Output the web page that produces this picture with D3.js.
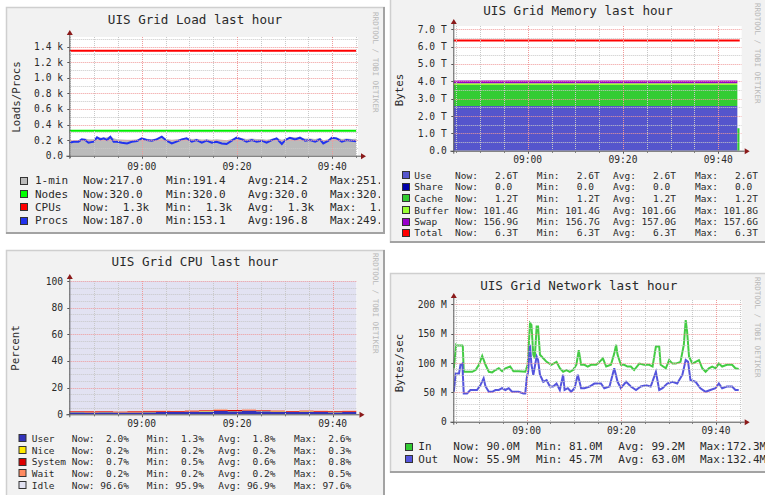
<!DOCTYPE html>
<html><head><meta charset="utf-8">
<script src="https://cdn.jsdelivr.net/npm/d3@7"></script>
<style>
body{margin:0;background:#fff;}
svg text{font-family:"DejaVu Sans Mono",monospace;white-space:pre;fill:#2a2a2a;}
</style></head><body>
<svg id="c" width="765" height="495"></svg>
<script>
// ---------------- DATA ----------------
// time axis: minutes relative to 09:00
const timeTicks = [0, 20, 40];
const timeTickLabels = ["09:00", "09:20", "09:40"];

// Load panel
const loadTime = [-15.2,-14.3,-13.3,-12.6,-11.9,-11.2,-10.1,-9.4,-8.7,-8.0,-7.3,-6.6,-5.9,-5.2,-4.2,-3.1,-2.1,-1.0,0,1.0,2.1,3.1,4.2,5.2,6.3,7.3,8.4,9.4,10.5,11.5,12.6,13.6,14.7,15.7,16.8,17.8,18.9,19.9,21.0,22.0,23.1,24.1,25.2,26.2,27.3,28.3,29.4,30.1,31.1,32.2,33.2,34.3,35.3,36.4,37.4,38.1,39.2,39.9,40.9,42.0,43.0,44.1,45.0];
const loadOneMin = [195,198,200,215,222,210,212,238,235,232,236,250,225,212,208,205,206,212,226,218,212,220,242,215,205,210,218,230,216,218,208,212,206,210,204,198,214,236,228,216,220,214,216,206,218,230,205,218,240,236,238,222,220,214,226,200,212,236,232,216,222,215,217];
const loadProcs = [167,180,180,210,201,167,180,235,210,223,201,244,180,180,167,158,180,188,223,201,193,210,244,193,158,180,210,223,180,201,167,193,167,180,158,150,193,231,210,180,201,180,193,167,201,223,150,201,231,210,231,193,201,180,210,158,193,231,223,180,201,193,187];
const loadFlatTime = [-15.2, 45.0];
const loadNodes = [320, 320];
const loadCPUs = [1348, 1348];
const loadYTicks = [0, 200, 400, 600, 800, 1000, 1200, 1400];
const loadYTickLabels = ["0.0", "0.2 k", "0.4 k", "0.6 k", "0.8 k", "1.0 k", "1.2 k", "1.4 k"];
const loadLegendNames = ["1-min", "Nodes", "CPUs", "Procs"];
const loadLegendStats = [
  ["Now:217.0", "Min:191.4", "Avg:214.2", "Max:251.8"],
  ["Now:320.0", "Min:320.0", "Avg:320.0", "Max:320.0"],
  ["Now:  1.3k", "Min:  1.3k", "Avg:  1.3k", "Max:  1.3k"],
  ["Now:187.0", "Min:153.1", "Avg:196.8", "Max:249.7"]
];

// Memory panel (values in TB)
const memTime   = [-15.6,-10,-5,0,5,10,15,20,25,30,35,40,44.0,44.45];
const memUse    = [2.58,2.58,2.58,2.58,2.58,2.58,2.58,2.58,2.58,2.58,2.58,2.58,0,0];
const memShare  = [0,0,0,0,0,0,0,0,0,0,0,0,0,0];
const memCache  = [1.21,1.21,1.21,1.21,1.21,1.21,1.21,1.21,1.21,1.21,1.21,1.21,1.30,1.30];
const memBuffer = [0.1018,0.1017,0.1016,0.1016,0.1016,0.1015,0.1015,0.1016,0.1016,0.1015,0.1014,0.1014,0,0];
const memSwap   = [0.1576,0.1574,0.1572,0.1571,0.1570,0.1570,0.1569,0.1569,0.1568,0.1568,0.1567,0.1569,0,0];
const memTotalTime = [-15.6, 44.5];
const memTotal  = [6.35, 6.35];
const memYTicks = [0, 1, 2, 3, 4, 5, 6, 7];
const memYTickLabels = ["0.0", "1.0 T", "2.0 T", "3.0 T", "4.0 T", "5.0 T", "6.0 T", "7.0 T"];
const memLegendNames = ["Use", "Share", "Cache", "Buffer", "Swap", "Total"];
const memLegendStats = [
  ["Now:   2.6T", "Min:   2.6T", "Avg:   2.6T", "Max:   2.6T"],
  ["Now:   0.0", "Min:   0.0", "Avg:   0.0", "Max:   0.0"],
  ["Now:   1.2T", "Min:   1.2T", "Avg:   1.2T", "Max:   1.2T"],
  ["Now: 101.4G", "Min: 101.4G", "Avg: 101.6G", "Max: 101.8G"],
  ["Now: 156.9G", "Min: 156.7G", "Avg: 157.0G", "Max: 157.6G"],
  ["Now:   6.3T", "Min:   6.3T", "Avg:   6.3T", "Max:   6.3T"]
];

// CPU panel (percent)
const cpuTime   = [-15.3,-12,-9,-6,-3,0,3,6,9,12,15,18,21,24,27,30,33,36,39,42,45];
const cpuUser   = [1.5,1.4,1.5,1.3,1.4,1.6,1.8,1.7,1.9,2.1,2.4,2.2,2.6,2.3,1.9,1.7,2.0,1.8,1.6,1.8,2.0];
const cpuNice   = [0.2,0.2,0.2,0.2,0.2,0.3,0.2,0.2,0.2,0.3,0.2,0.2,0.2,0.2,0.3,0.2,0.2,0.2,0.3,0.2,0.2];
const cpuSystem = [0.6,0.6,0.5,0.6,0.6,0.6,0.6,0.6,0.7,0.6,0.7,0.8,0.7,0.6,0.6,0.5,0.6,0.6,0.6,0.7,0.7];
const cpuWait   = [0.2,0.3,0.2,0.2,0.2,0.3,0.2,0.2,0.3,0.2,0.5,0.3,0.2,0.2,0.2,0.2,0.3,0.2,0.2,0.2,0.2];
const cpuIdle   = [97.5,97.5,97.6,97.7,97.6,97.2,97.2,97.3,96.9,96.8,96.2,96.5,96.3,96.7,97.0,97.4,96.9,97.2,97.3,97.1,96.9];
const cpuYTicks = [0, 20, 40, 60, 80, 100];
const cpuYTickLabels = ["0", "20", "40", "60", "80", "100"];
const cpuLegendNames = ["User", "Nice", "System", "Wait", "Idle"];
const cpuLegendStats = [
  ["Now:  2.0%", "Min:  1.3%", "Avg:  1.8%", "Max:  2.6%"],
  ["Now:  0.2%", "Min:  0.2%", "Avg:  0.2%", "Max:  0.3%"],
  ["Now:  0.7%", "Min:  0.5%", "Avg:  0.6%", "Max:  0.8%"],
  ["Now:  0.2%", "Min:  0.2%", "Avg:  0.2%", "Max:  0.5%"],
  ["Now: 96.6%", "Min: 95.9%", "Avg: 96.9%", "Max: 97.6%"]
];

// Network panel (MB/s)
const netInTime = [-15.4,-14.9,-14.7,-13.6,-13.5,-13.3,-12.9,-11.5,-10.8,-10.1,-9.4,-8.7,-8.0,-7.3,-6.6,-5.9,-5.2,-4.5,-3.5,-2.8,-1.7,-0.3,0.2,0.7,1.0,1.4,1.7,2.1,2.4,2.8,3.5,4.2,5.2,6.3,7.0,7.7,8.4,9.1,9.8,10.5,11.0,11.5,12.2,12.9,13.6,14.7,15.4,16.1,16.8,17.8,18.5,18.9,19.2,19.9,20.6,21.3,22.0,22.7,23.8,24.8,25.9,26.6,27.3,28.0,28.3,29.4,30.1,30.8,31.5,32.5,33.2,33.6,33.9,34.3,35.0,35.7,36.4,37.1,37.8,38.5,39.2,39.9,40.6,41.3,42.3,43.4,44.1,44.8];
const netIn = [91,131,130,130,128,85,85,85,88,97,112,97,85,84,88,91,86,91,94,86,86,85,97,168,165,114,108,162,162,114,108,102,97,102,91,85,88,85,88,97,122,97,97,94,97,97,102,108,94,97,116,131,114,97,97,94,94,88,99,97,97,94,128,128,97,91,105,99,99,102,131,173,153,111,99,102,105,91,85,91,94,91,99,94,97,97,91,90];
const netOutTime = [-15.4,-15.0,-14.3,-14.0,-13.6,-13.3,-12.6,-11.9,-10.5,-9.8,-9.1,-8.7,-8.0,-7.3,-6.6,-5.9,-5.2,-4.5,-3.8,-3.1,-1.7,-0.7,-0.3,0.0,0.3,0.7,1.0,1.4,2.1,2.4,2.8,3.5,4.2,4.9,5.6,6.3,7.0,7.7,8.0,8.7,9.4,10.1,10.8,11.5,12.2,13.3,14.3,15.7,16.4,17.5,18.5,19.2,19.9,21.0,22.0,23.1,24.1,25.2,26.2,27.3,28.0,28.7,29.7,30.8,31.8,32.9,33.6,34.1,34.6,35.7,36.7,37.8,38.8,39.9,40.6,41.3,42.3,43.4,44.1,44.8];
const netOut = [51,82,82,97,99,48,48,54,54,62,74,60,51,51,54,54,57,54,57,51,51,48,48,74,85,131,97,80,111,105,80,68,71,60,60,65,54,80,54,57,51,57,80,57,57,60,65,65,57,60,91,68,57,68,60,54,60,62,60,85,54,57,65,68,65,80,105,102,71,68,57,51,54,57,65,57,60,60,54,54];
const netYTicks = [0, 50, 100, 150, 200];
const netYTickLabels = ["0", "50 M", "100 M", "150 M", "200 M"];
const netLegendNames = ["In", "Out"];
const netLegendStats = [
  ["Now: 90.0M", "Min: 81.0M", "Avg: 99.2M", "Max:172.3M"],
  ["Now: 55.9M", "Min: 45.7M", "Avg: 63.0M", "Max:132.4M"]
];

// ---------------- DRAWING ----------------
const svg = d3.select("#c");
const defs = svg.append("defs");

function drawPanel(o) {
  const [bx, by, bw, bh] = o.box;
  const root = svg.append("g");
  defs.append("clipPath").attr("id", "clip" + o.id)
    .append("rect").attr("x", bx).attr("y", by).attr("width", o.clipW || bw).attr("height", bh);
  defs.append("clipPath").attr("id", "plot" + o.id)
    .append("rect").attr("x", o.px0).attr("y", o.pyTop).attr("width", o.px1 - o.px0).attr("height", o.pyB - o.pyTop);

  root.append("rect").attr("x", bx).attr("y", by).attr("width", bw).attr("height", bh).attr("fill", "#f2f2f2");
  const g = root.append("g").attr("clip-path", `url(#clip${o.id})`);

  const x = d3.scaleLinear().domain([0, 40]).range([o.x900, o.x940]);
  const y = d3.scaleLinear().domain([0, o.yRef]).range([o.pyB, o.yRefPx]);
  const ymax = y.invert(o.pyTop);

  // plot background
  g.append("rect").attr("x", o.px0).attr("y", o.pyTop).attr("width", o.px1 - o.px0)
    .attr("height", o.pyB - o.pyTop).attr("fill", o.plotBg || "#ffffff");

  const plot = g.append("g").attr("clip-path", `url(#plot${o.id})`);
  o.drawBack && o.drawBack(plot, x, y);

  // grid
  const grid = g.append("g");
  const minorY = d3.range(0, ymax + 1e-9, o.yMinor).filter(v => !o.yTicks.some(t => Math.abs(t - v) < 1e-9));
  grid.selectAll(".hm").data(minorY).join("line")
    .attr("x1", o.px0).attr("x2", o.px1).attr("y1", d => Math.round(y(d)) + 0.5).attr("y2", d => Math.round(y(d)) + 0.5)
    .attr("stroke", "#c8c8c8").attr("stroke-dasharray", "1,1").attr("stroke-width", 1);
  const minorX = d3.range(-15, 46, 5).filter(v => !timeTicks.includes(v)).filter(v => x(v) > o.px0 + 1 && x(v) < o.px1);
  grid.selectAll(".vm").data(minorX).join("line")
    .attr("y1", o.pyTop).attr("y2", o.pyB).attr("x1", d => Math.round(x(d)) + 0.5).attr("x2", d => Math.round(x(d)) + 0.5)
    .attr("stroke", "#c8c8c8").attr("stroke-dasharray", "1,1");
  grid.selectAll(".hM").data(o.yTicks.filter(v => v > 0)).join("line")
    .attr("x1", o.px0).attr("x2", o.px1).attr("y1", d => Math.round(y(d)) + 0.5).attr("y2", d => Math.round(y(d)) + 0.5)
    .attr("stroke", "#f09a9a").attr("stroke-dasharray", "1,1");
  grid.selectAll(".vM").data(timeTicks).join("line")
    .attr("y1", o.pyTop).attr("y2", o.pyB).attr("x1", d => Math.round(x(d)) + 0.5).attr("x2", d => Math.round(x(d)) + 0.5)
    .attr("stroke", "#f09a9a").attr("stroke-dasharray", "1,1");

  o.drawFront && o.drawFront(plot, x, y);

  // axes
  const ax = g.append("g");
  ax.append("line").attr("x1", o.px0 - 3).attr("x2", o.px1 + 3).attr("y1", o.pyB + 0.5).attr("y2", o.pyB + 0.5).attr("stroke", "#555");
  ax.append("line").attr("x1", o.px0 + 0.5).attr("x2", o.px0 + 0.5).attr("y1", o.pyB + 3).attr("y2", o.pyTop - 3).attr("stroke", "#555");
  ax.append("path").attr("d", `M${o.px1 + 3},${o.pyB - 2.5}L${o.px1 + 8},${o.pyB + 0.5}L${o.px1 + 3},${o.pyB + 3.5}Z`).attr("fill", "#8b1a1a");
  ax.append("path").attr("d", `M${o.px0 - 2.5},${o.pyTop - 2}L${o.px0 + 0.5},${o.pyTop - 7}L${o.px0 + 3.5},${o.pyTop - 2}Z`).attr("fill", "#8b1a1a");
  // small ticks
  ax.selectAll(".tx").data(minorX.concat(timeTicks)).join("line")
    .attr("x1", d => Math.round(x(d)) + 0.5).attr("x2", d => Math.round(x(d)) + 0.5)
    .attr("y1", o.pyB + 1).attr("y2", d => o.pyB + (timeTicks.includes(d) ? 3 : 2)).attr("stroke", "#555");
  ax.selectAll(".ty").data(o.yTicks).join("line")
    .attr("x1", o.px0 - 2).attr("x2", o.px0)
    .attr("y1", d => Math.round(y(d)) + 0.5).attr("y2", d => Math.round(y(d)) + 0.5).attr("stroke", "#555");

  // tick labels
  g.selectAll(".yl").data(o.yTicks).join("text")
    .attr("x", o.yLabX).attr("y", d => y(d) + 3.5).attr("text-anchor", "end")
    .style("font-size", "9.6px").text((d, i) => o.yTickLabels[i]);
  g.selectAll(".xl").data(timeTicks).join("text")
    .attr("x", d => x(d)).attr("y", o.xLabY).attr("text-anchor", "middle")
    .style("font-size", "9.6px").text((d, i) => timeTickLabels[i]);

  // title, y label, watermark
  g.append("text").attr("x", o.title[1]).attr("y", o.title[2]).attr("text-anchor", "middle")
    .style("font-size", "12.6px").text(o.title[0]);
  g.append("text").attr("transform", `translate(${o.ylab[1]},${o.ylab[2]}) rotate(-90)`)
    .attr("text-anchor", "middle").attr("dy", "0.35em").style("font-size", "10.8px").text(o.ylab[0]);
  g.append("text").attr("transform", `translate(${o.wm[0]},${o.wm[1]}) rotate(90)`)
    .attr("dy", "0.35em").style("font-size", "7.6px").style("fill", "#b8b8b8").text("RRDTOOL / TOBI OETIKER");

  // legend
  const L = o.legend;
  const lg = g.append("g");
  L.names.forEach((name, i) => {
    const ry = L.rows[i];
    lg.append("rect").attr("x", L.swX + 0.5).attr("y", Math.round(ry - 4) + 0.5).attr("width", 7).attr("height", 7)
      .attr("fill", L.colors[i]).attr("stroke", "#333");
    lg.append("text").attr("x", L.labX).attr("y", ry + 3.6).style("font-size", L.font + "px").text(name);
    L.stats[i].forEach((s, j) => {
      lg.append("text").attr("x", L.cols[j]).attr("y", ry + 3.6).style("font-size", L.font + "px").text(s);
    });
  });

  // borders
  root.append("path").attr("d", `M${bx + 0.5},${by + bh}V${by + 0.5}H${bx + bw}`).attr("fill", "none").attr("stroke", "#cfcfcf").attr("stroke-width", 1.5);
  root.append("path").attr("d", `M${bx + bw - 1},${by}V${by + bh - 1}H${bx}`).attr("fill", "none").attr("stroke", "#a3a3a3").attr("stroke-width", 2);
}

// ---- Load ----
drawPanel({
  id: "load", box: [6, 7, 379, 227], clipW: 374,
  px0: 69.3, px1: 358, pyTop: 37, pyB: 155.7, x900: 141.8, x940: 332.3,
  yRef: 1400, yRefPx: 46.7, yTicks: loadYTicks, yTickLabels: loadYTickLabels, yMinor: 100,
  yLabX: 63, xLabY: 169.5,
  title: ["UIS Grid Load last hour", 195, 24], ylab: ["Loads/Procs", 16, 97], wm: [376, 12],
  legend: { names: loadLegendNames, stats: loadLegendStats, colors: ["#bbbbbb", "#00ff00", "#ff0000", "#2233ee"],
    rows: [180.7, 194, 207.3, 220.7], swX: 20, labX: 35, cols: [83, 166, 248, 330], font: 11 },
  drawBack: (p, x, y) => {
    const rows = loadTime.map((t, i) => ({ t, v: loadOneMin[i] }));
    p.append("path").datum(rows).attr("fill", "#bbbbbb")
      .attr("d", d3.area().x(d => x(d.t)).y0(y(0)).y1(d => y(d.v)));
  },
  drawFront: (p, x, y) => {
    const line = d3.line().x(d => x(d[0])).y(d => y(d[1]));
    p.append("path").datum(loadFlatTime.map((t, i) => [t, loadNodes[i]])).attr("d", line).attr("stroke", "#00ee00").attr("stroke-width", 2).attr("fill", "none");
    p.append("path").datum(loadFlatTime.map((t, i) => [t, loadCPUs[i]])).attr("d", line).attr("stroke", "#ff0000").attr("stroke-width", 2).attr("fill", "none");
    p.append("path").datum(loadTime.map((t, i) => [t, loadProcs[i]])).attr("d", line).attr("stroke", "#2233ee").attr("stroke-width", 2).attr("fill", "none");
  }
});

// ---- Memory ----
drawPanel({
  id: "mem", box: [390, -3, 380, 246],
  px0: 453.3, px1: 741.7, pyTop: 26, pyB: 150.7, x900: 527.7, x940: 718.3,
  yRef: 7, yRefPx: 29.3, yTicks: memYTicks, yTickLabels: memYTickLabels, yMinor: 0.5,
  yLabX: 446.7, xLabY: 162.5,
  title: ["UIS Grid Memory last hour", 578, 14.5], ylab: ["Bytes", 399, 90], wm: [758, 3],
  legend: { names: memLegendNames, stats: memLegendStats,
    colors: ["#5555cc", "#0000aa", "#33cc33", "#99ff33", "#9900cc", "#ff0000"],
    rows: [175, 186.7, 198.3, 210, 221.5, 232.7], swX: 402, labX: 414.3, cols: [455, 536.7, 613, 695], font: 9.5 },
  drawBack: (p, x, y) => {
    const keys = ["use", "share", "cache", "buffer", "swap"];
    const cols = { use: memUse, share: memShare, cache: memCache, buffer: memBuffer, swap: memSwap };
    const colors = { use: "#5555cc", share: "#0000aa", cache: "#33cc33", buffer: "#99ff33", swap: "#9900cc" };
    const table = memTime.map((t, i) => { const r = { t }; keys.forEach(k => r[k] = cols[k][i]); return r; });
    const st = d3.stack().keys(keys)(table);
    const area = d3.area().curve(d3.curveStepAfter).x(d => x(d.data.t)).y0(d => y(d[0])).y1(d => y(d[1]));
    st.forEach(s => p.append("path").datum(s).attr("fill", colors[s.key]).attr("d", area));
  },
  drawFront: (p, x, y) => {
    const line = d3.line().x(d => x(d[0])).y(d => y(d[1]));
    p.append("path").datum(memTotalTime.map((t, i) => [t, memTotal[i]])).attr("d", line).attr("stroke", "#ff0000").attr("stroke-width", 2).attr("fill", "none");
  }
});

// ---- CPU ----
drawPanel({
  id: "cpu", box: [6, 250, 379, 250],
  px0: 69.3, px1: 356.5, pyTop: 281, pyB: 414.3, x900: 141.7, x940: 332.7,
  yRef: 100, yRefPx: 281, yTicks: cpuYTicks, yTickLabels: cpuYTickLabels, yMinor: 5,
  yLabX: 63, xLabY: 427,
  title: ["UIS Grid CPU last hour", 195, 266], ylab: ["Percent", 15, 348], wm: [376, 253],
  plotBg: "#ffffff",
  legend: { names: cpuLegendNames, stats: cpuLegendStats,
    colors: ["#3333bb", "#ffea00", "#dd0000", "#ff8a60", "#e2e2f2"],
    rows: [438.3, 450, 461.7, 473.3, 485], swX: 18.5, labX: 31.7, cols: [71.7, 146.7, 218.3, 294], font: 9.5 },
  drawBack: (p, x, y) => {
    const keys = ["user", "nice", "system", "wait", "idle"];
    const cols = { user: cpuUser, nice: cpuNice, system: cpuSystem, wait: cpuWait, idle: cpuIdle };
    const colors = { user: "#3333bb", nice: "#ffea00", system: "#dd0000", wait: "#ff8a60", idle: "#e2e2f2" };
    const table = cpuTime.map((t, i) => { const r = { t }; keys.forEach(k => r[k] = cols[k][i]); return r; });
    const st = d3.stack().keys(keys)(table);
    const area = d3.area().curve(d3.curveStepAfter).x(d => x(d.data.t)).y0(d => y(d[0])).y1(d => y(d[1]));
    st.forEach(s => p.append("path").datum(s).attr("fill", colors[s.key]).attr("d", area));
  }
});

// ---- Network ----
drawPanel({
  id: "net", box: [390, 273, 380, 200],
  px0: 453.3, px1: 741.7, pyTop: 300, pyB: 421.7, x900: 526.7, x940: 716,
  yRef: 200, yRefPx: 304.3, yTicks: netYTicks, yTickLabels: netYTickLabels, yMinor: 10,
  yLabX: 446.7, xLabY: 434,
  title: ["UIS Grid Network last hour", 578.7, 290], ylab: ["Bytes/sec", 399, 363], wm: [758, 277],
  legend: { names: netLegendNames, stats: netLegendStats, colors: ["#33cc33", "#5555dd"],
    rows: [446.7, 459.3], swX: 405, labX: 418.3, cols: [453.3, 536, 618.3, 700], font: 11 },
  drawFront: (p, x, y) => {
    const line = d3.line().x(d => x(d[0])).y(d => y(d[1]));
    p.append("path").datum(netInTime.map((t, i) => [t, netIn[i]])).attr("d", line).attr("stroke", "#44cc44").attr("stroke-width", 2).attr("fill", "none");
    p.append("path").datum(netOutTime.map((t, i) => [t, netOut[i]])).attr("d", line).attr("stroke", "#5555dd").attr("stroke-width", 2).attr("fill", "none");
  }
});
</script>
</body></html>
